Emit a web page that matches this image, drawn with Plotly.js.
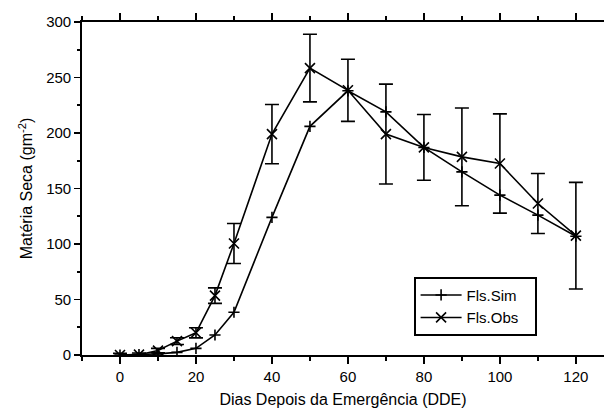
<!DOCTYPE html>
<html>
<head>
<meta charset="utf-8">
<script src="https://cdn.plot.ly/plotly-3.0.1.min.js"></script>
<style>html,body{margin:0;padding:0;background:#fff;}#chart{width:604px;height:412px;}</style>
</head>
<body>
<div id="chart"></div>
<script>
const days = [0, 5, 10, 15, 20, 25, 30, 40, 50, 60, 70, 80, 90, 100, 110, 120];
const flsSim = [0, 0.3, 1, 2.4, 6, 18, 38.5, 124, 206, 238, 219, 187, 165, 144, 126, 107];
const flsObs = [0, 0.3, 4, 12.5, 20, 53.5, 100.5, 199, 258.5, 238.5, 199, 187, 178.5, 172.5, 136.5, 107.5];
const flsObsErr = [1.5, 1.5, 2, 3, 4.6, 7, 18, 26.7, 30.5, 28, 45, 29.6, 44, 44.7, 27, 48];
const xTickVals = [0, 20, 40, 60, 80, 100, 120];
const yTickVals = [0, 50, 100, 150, 200, 250, 300];

const fam = 'Liberation Sans, Arial, sans-serif';

const traces = [
  {
    x: days, y: flsSim, name: 'Fls.Sim', type: 'scatter', mode: 'lines+markers',
    line: {color: '#000', width: 1.6},
    marker: {symbol: 'cross-thin-open', size: 8, color: '#000', line: {color: '#000', width: 1.6}}
  },
  {
    x: days, y: flsObs, name: 'Fls.Obs', type: 'scatter', mode: 'lines+markers',
    line: {color: '#000', width: 1.6},
    marker: {symbol: 'x-thin-open', size: 10, color: '#000', line: {color: '#000', width: 1.6}},
    error_y: {type: 'data', array: flsObsErr, visible: true, color: '#000', thickness: 1.6, width: 7}
  }
];

const layout = {
  width: 604, height: 412,
  margin: {l: 82, r: 0, t: 22, b: 57, pad: 0},
  paper_bgcolor: '#fff', plot_bgcolor: '#fff',
  font: {family: fam, color: '#000', size: 15},
  showlegend: true,
  legend: {
    x: 0.636, y: 0.234, xanchor: 'left', yanchor: 'top',
    bordercolor: '#000', borderwidth: 1.6, bgcolor: '#fff',
    font: {family: fam, size: 15, color: '#000'},
    tracegroupgap: 0, itemwidth: 41
  },
  xaxis: {
    range: [-10, 127.4], tickvals: xTickVals, ticktext: xTickVals.map(String),
    ticks: 'outside', ticklen: 7, tickwidth: 1.6, tickcolor: '#000',
    minor: {dtick: 10, tick0: 0, ticks: 'outside', ticklen: 4, tickwidth: 1.6, tickcolor: '#000', showgrid: false},
    showline: true, linecolor: '#000', linewidth: 1.8, mirror: 'ticks',
    showgrid: false, zeroline: false, automargin: false,
    tickfont: {family: fam, size: 15, color: '#000'},
    title: {text: 'Dias Depois da Emergência (DDE)', font: {family: fam, size: 16, color: '#000'}, standoff: 10}
  },
  yaxis: {
    range: [0, 300], tickvals: yTickVals, ticktext: yTickVals.map(String),
    ticks: 'outside', ticklen: 6, tickwidth: 1.6, tickcolor: '#000',
    minor: {dtick: 25, tick0: 0, ticks: 'outside', ticklen: 3, tickwidth: 1.6, tickcolor: '#000', showgrid: false},
    showline: true, linecolor: '#000', linewidth: 1.8,
    showgrid: false, zeroline: false, automargin: false,
    tickfont: {family: fam, size: 15, color: '#000'},
    title: {text: 'Matéria Seca (gm<sup>-2</sup>)', font: {family: fam, size: 16, color: '#000'}, standoff: 9}
  }
};

Plotly.newPlot('chart', traces, layout, {displayModeBar: false, staticPlot: true}).then(function (gd) {
  // lengthen legend sample lines and centre the sample markers on them
  gd.querySelectorAll('.legend .legendlines path').forEach(function (p) {
    p.setAttribute('d', 'M5,0h41');
  });
  gd.querySelectorAll('.legend .legendpoints path').forEach(function (p) {
    const t = p.getAttribute('transform') || '';
    if (/translate\(/.test(t)) p.setAttribute('transform', t.replace(/translate\([^)]*\)/, 'translate(25.5,0)'));
  });
  // a little extra right padding inside the legend box
  const bg = gd.querySelector('.legend rect.bg');
  if (bg) {
    const w = parseFloat(bg.getAttribute('width'));
    if (!isNaN(w)) bg.setAttribute('width', w + 12);
  }
});
</script>
</body>
</html>
